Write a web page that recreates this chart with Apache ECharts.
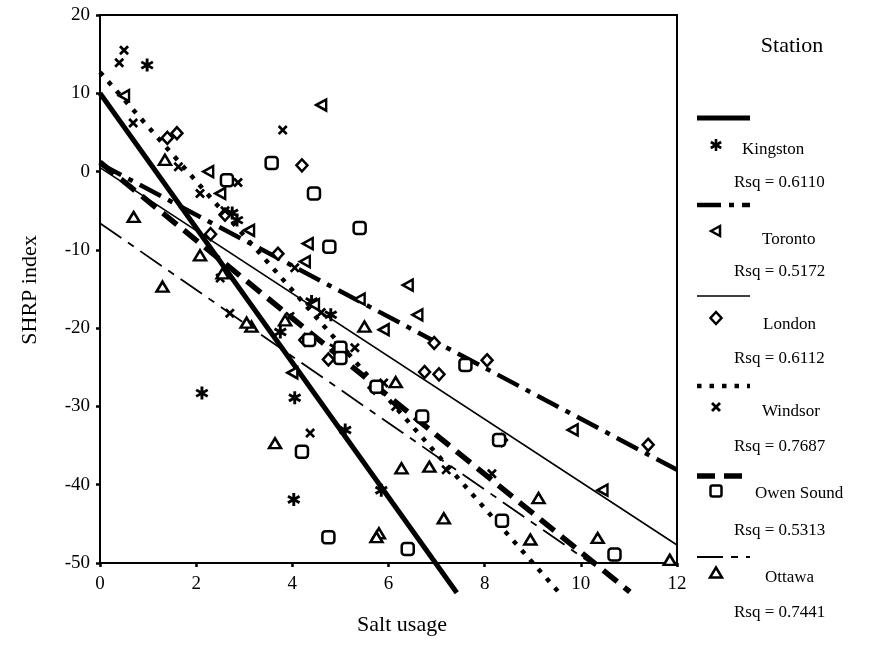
<!DOCTYPE html>
<html>
<head>
<meta charset="utf-8">
<script src="https://cdn.jsdelivr.net/npm/echarts@6/dist/echarts.min.js"></script>
<style>
  html, body { margin: 0; padding: 0; background: #fff; }
  #chart { width: 871px; height: 662px; }
</style>
</head>
<body>
<div id="chart"></div>
<script>
// Observations: [salt usage, SHRP index]
const kingston = [[0.98,13.6],[2.12,-28.3],[4.05,-28.9],[4.03,-41.9],[2.75,-5.3],[2.85,-6.2],
  [4.4,-16.6],[4.8,-18.3],[5.1,-33.0],[5.85,-40.7],[3.75,-20.5],[4.9,-22.5]];
const toronto = [[0.5,9.7],[4.6,8.5],[2.25,0.0],[2.5,-2.8],[4.32,-9.2],[4.26,-11.5],[6.4,-14.5],
  [6.6,-18.3],[9.83,-33.0],[10.45,-40.7],[5.9,-20.2],[3.1,-7.5],[4.45,-17.0],[5.4,-16.3],[4.0,-25.7]];
const london = [[1.6,4.9],[1.4,4.3],[4.2,0.8],[4.26,-21.5],[4.75,-24.0],[5.05,-23.0],[5.7,-27.6],
  [6.75,-25.6],[7.05,-25.9],[6.95,-21.9],[8.05,-24.1],[8.35,-34.3],[11.4,-34.9],[2.6,-5.5],[3.7,-10.5],[2.3,-8.0]];
const windsor = [[0.5,15.5],[0.4,13.9],[0.69,6.2],[1.63,0.6],[2.87,-1.4],[2.08,-2.8],[3.8,5.3],
  [2.5,-13.6],[2.7,-18.1],[4.37,-33.4],[7.2,-38.1],[8.15,-38.6],[2.6,-5.0],[4.05,-12.3],
  [4.6,-18.0],[5.9,-27.0],[6.15,-30.0],[3.95,-18.5],[5.3,-22.5]];
const owenSound = [[3.57,1.1],[2.64,-1.1],[4.45,-2.8],[5.4,-7.2],[4.77,-9.6],[7.6,-24.7],[4.2,-35.8],
  [4.75,-46.7],[6.4,-48.2],[10.7,-48.9],[8.36,-44.6],[8.3,-34.3],[6.7,-31.3],[5.0,-22.5],
  [4.35,-21.5],[5.75,-27.5],[5.0,-23.8]];
const ottawa = [[0.7,-5.8],[1.35,1.5],[2.08,-10.7],[1.3,-14.7],[3.15,-19.8],[3.05,-19.3],[3.64,-34.7],
  [6.27,-37.9],[6.85,-37.7],[7.15,-44.3],[5.8,-46.2],[5.75,-46.7],[9.12,-41.7],[8.95,-47.0],
  [10.35,-46.8],[11.85,-49.6],[5.5,-19.8],[6.15,-26.9],[3.85,-19.0],[2.55,-13.0]];

// Fitted regression lines: start and end points
const kingstonFit = [[0,10.0],[7.42,-53.8]];
const torontoFit = [[0,1.0],[12,-38.1]];
const londonFit = [[0,0.5],[12,-47.7]];
const windsorFit = [[0,12.7],[9.55,-53.8]];
const owenSoundFit = [[0,1.2],[11.02,-53.7]];
const ottawaFit = [[0,-6.6],[10.3,-50.4]];

const stations = ['Kingston','Toronto','London','Windsor','Owen Sound','Ottawa'];
const rsqValues = ['0.6110','0.5172','0.6112','0.7687','0.5313','0.7441'];

const xTicks = { min: 0, max: 12, interval: 2 };
const yTicks = { min: -50, max: 20, interval: 10 };

const SERIF = '"Liberation Serif", "DejaVu Serif", serif';
const INK = '#000';

// Marker outlines
const ASTERISK = 'path://M-1.3,-6L1.3,-6L1.3,6L-1.3,6Z' +
  'M4.546,-4.126L5.846,-1.874L-4.546,4.126L-5.846,1.874Z' +
  'M-5.846,-1.874L-4.546,-4.126L5.846,1.874L4.546,4.126Z';
const CROSS = 'path://M2.97,-4.808L4.808,-2.97L-2.97,4.808L-4.808,2.97Z' +
  'M-4.808,-2.97L-2.97,-4.808L4.808,2.97L2.97,4.808Z';

const hollow = { color: '#fff', borderColor: INK, borderWidth: 2.5, opacity: 1 };
const solid = { color: INK, opacity: 1 };

const styles = [
  { data: kingston, fit: kingstonFit, symbol: ASTERISK, size: 13, rotate: 0, item: solid,
    line: { width: 5, type: 'solid' } },
  { data: toronto, fit: torontoFit, symbol: 'triangle', size: [11, 10], rotate: 90, item: hollow,
    line: { width: 4.5, type: [24, 8, 5, 8] } },
  { data: london, fit: londonFit, symbol: 'diamond', size: [11, 12], rotate: 0, item: hollow,
    line: { width: 1.6, type: 'solid' } },
  { data: windsor, fit: windsorFit, symbol: CROSS, size: 10, rotate: 0, item: solid,
    line: { width: 4.5, type: [4.5, 8] } },
  { data: owenSound, fit: owenSoundFit, symbol: 'roundRect', size: 12, rotate: 0, item: hollow,
    line: { width: 5.5, type: [18, 9] } },
  { data: ottawa, fit: ottawaFit, symbol: 'triangle', size: [12, 10], rotate: 0, item: hollow,
    line: { width: 1.8, type: [26, 8, 7, 8] } }
];

const series = [];
styles.forEach((s, i) => {
  series.push({
    name: stations[i] + ' fit', type: 'line', data: s.fit, symbol: 'none', clip: false,
    lineStyle: { color: INK, width: s.line.width, type: s.line.type, cap: 'butt', opacity: 1 },
    z: 2, silent: true, animation: false
  });
  series.push({
    name: stations[i], type: 'scatter', data: s.data, symbol: s.symbol, symbolSize: s.size,
    symbolRotate: s.rotate, itemStyle: s.item, z: 3, silent: true, animation: false
  });
});

// Legend block drawn on the right side
const legendX0 = 697, legendX1 = 750, markerX = 716;
const legendRows = [
  { lineY: 118, markY: 145, nameX: 742, nameY: 150, rsqY: 183 },
  { lineY: 205, markY: 231, nameX: 762, nameY: 240, rsqY: 272 },
  { lineY: 296, markY: 318, nameX: 763, nameY: 325, rsqY: 359 },
  { lineY: 386, markY: 407, nameX: 762, nameY: 412, rsqY: 447 },
  { lineY: 476, markY: 491, nameX: 755, nameY: 494, rsqY: 531 },
  { lineY: 557, markY: 573, nameX: 765, nameY: 578, rsqY: 613 }
];
function bar(cx, cy, dx, dy, w) {
  return { type: 'line', shape: { x1: cx - dx, y1: cy - dy, x2: cx + dx, y2: cy + dy },
    style: { stroke: INK, lineWidth: w } };
}
function legendMarker(i, cx, cy) {
  const stroke = { stroke: INK, lineWidth: 2.5, fill: '#fff' };
  switch (i) {
    case 0: return [bar(cx, cy, 0, 6, 2.6), bar(cx, cy, 5.2, 3, 2.6), bar(cx, cy, 5.2, -3, 2.6)];
    case 1: return [{ type: 'polygon', shape: { points: [[cx - 5, cy], [cx + 4, cy - 5], [cx + 4, cy + 5]] }, style: stroke }];
    case 2: return [{ type: 'polygon', shape: { points: [[cx, cy - 6], [cx + 5.5, cy], [cx, cy + 6], [cx - 5.5, cy]] }, style: stroke }];
    case 3: return [bar(cx, cy, 4, 4, 2.8), bar(cx, cy, 4, -4, 2.8)];
    case 4: return [{ type: 'rect', shape: { x: cx - 5.5, y: cy - 5.5, width: 11, height: 11, r: 2 }, style: stroke }];
    default: return [{ type: 'polygon', shape: { points: [[cx, cy - 5.5], [cx + 6, cy + 4.5], [cx - 6, cy + 4.5]] }, style: stroke }];
  }
}
const graphic = [
  { type: 'text', style: { text: 'SHRP index', x: 30, y: 290, font: '22px ' + SERIF, fill: INK,
    align: 'center', verticalAlign: 'middle' }, rotation: Math.PI / 2, x: 0, y: 0, originX: 30, originY: 290 },
  { type: 'text', style: { text: 'Salt usage', x: 402, y: 625, font: '22px ' + SERIF, fill: INK,
    align: 'center', verticalAlign: 'middle' } },
  { type: 'text', style: { text: 'Station', x: 792, y: 46, font: '22px ' + SERIF, fill: INK,
    align: 'center', verticalAlign: 'middle' } }
];
legendRows.forEach((r, i) => {
  const st = styles[i];
  const lineStyle = { stroke: INK, lineWidth: st.line.width };
  if (st.line.type !== 'solid') lineStyle.lineDash = st.line.type;
  graphic.push({ type: 'line', shape: { x1: legendX0, y1: r.lineY, x2: legendX1, y2: r.lineY }, style: lineStyle });
  legendMarker(i, markerX, r.markY).forEach(el => graphic.push(el));
  graphic.push({ type: 'text', style: { text: stations[i], x: r.nameX, y: r.nameY, font: '17px ' + SERIF,
    fill: INK, align: 'left', verticalAlign: 'middle' } });
  graphic.push({ type: 'text', style: { text: 'Rsq = ' + rsqValues[i], x: 734, y: r.rsqY, font: '17px ' + SERIF,
    fill: INK, align: 'left', verticalAlign: 'middle' } });
});

const axisCommon = {
  axisLine: { show: true, onZero: false, lineStyle: { color: INK, width: 2 } },
  axisTick: { show: true, inside: false, length: 4, lineStyle: { color: INK, width: 2.5 } },
  splitLine: { show: false },
  axisLabel: { color: INK, fontFamily: SERIF, fontSize: 19 }
};

const chart = echarts.init(document.getElementById('chart'), null, { renderer: 'canvas' });
chart.setOption({
  backgroundColor: '#fff',
  animation: false,
  grid: { left: 100, right: 194, top: 15, bottom: 99, show: true, borderColor: INK, borderWidth: 2,
    backgroundColor: 'transparent' },
  xAxis: Object.assign({ type: 'value', min: xTicks.min, max: xTicks.max, interval: xTicks.interval },
    axisCommon, { axisLabel: Object.assign({}, axisCommon.axisLabel, { margin: 12 }) }),
  yAxis: Object.assign({ type: 'value', min: yTicks.min, max: yTicks.max, interval: yTicks.interval },
    axisCommon, { axisLabel: Object.assign({}, axisCommon.axisLabel, { margin: 10 }) }),
  series: series,
  graphic: graphic
});
</script>
</body>
</html>
